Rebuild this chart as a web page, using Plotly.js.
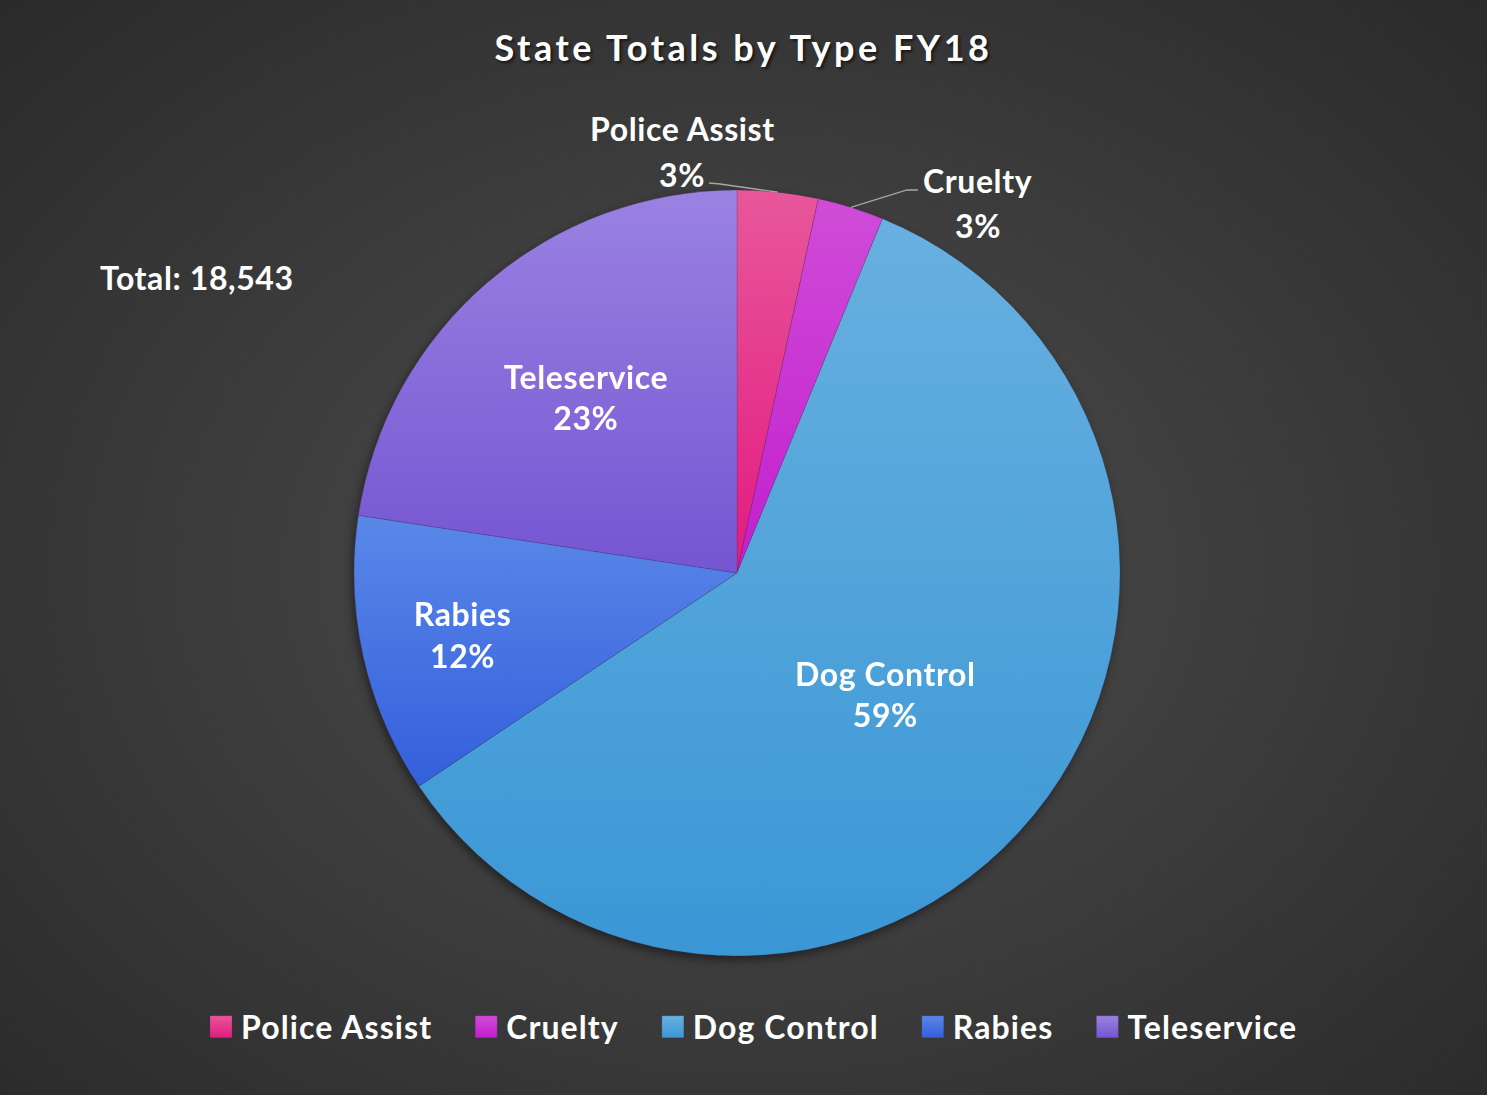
<!DOCTYPE html>
<html>
<head>
<meta charset="utf-8">
<script src="https://cdn.plot.ly/plotly-3.0.1.min.js"></script>
<style>
html, body { margin:0; padding:0; width:1487px; height:1095px; overflow:hidden;
  background: radial-gradient(ellipse at 50% 52%, #4e4e4e 0%, #3e3e3e 45%, #2a2a2a 100%); }
#chart { width:1487px; height:1095px; }
.gtitle { letter-spacing: 3.5px; }
.annotation-text, .slicetext { letter-spacing: 0.6px; }
.legendtext { letter-spacing: 1.1px; }
.pielayer { filter: drop-shadow(-2px 4px 5px rgba(0,0,0,0.45)); }
</style>
</head>
<body>
<div id="chart"></div>
<script>
const categories = ["Police Assist", "Cruelty", "Dog Control", "Rabies", "Teleservice"];
const values = [631, 519, 11015, 2188, 4190];
const colors = ["#e6398c", "#c936d3", "#4ea4dc", "#4775e3", "#8769da"];
const gradTop = ["#e8579a", "#d04cd8", "#68b0e0", "#5a88e8", "#9a82e2"];
const gradBottom = ["#e21a80", "#c21ece", "#3a97d5", "#335fdc", "#7555d2"];
const totalLabel = "Total: 18,543";

const FONT = "Lato, 'Open Sans', sans-serif";
const W = 1487, H = 1095;
// pie geometry in pixels (layout)
const CX = 737, CY = 573, R = 383;
const LEGEND_EXTRA_GAP = 29;

const total = values.reduce((a, b) => a + b, 0);
const pct = values.map(v => Math.round(v / total * 100) + "%");

function edgePoint(i) {
  let cum = 0;
  for (let k = 0; k < i; k++) cum += values[k];
  const mid = (cum + values[i] / 2) / total * 2 * Math.PI;
  return [CX + R * Math.sin(mid), CY - R * Math.cos(mid)];
}
const px = x => x / W;
const py = y => 1 - y / H;

const inside = "<b>%{label}</b><br><b>%{percent:.0%}</b>";
const trace = {
  type: "pie",
  labels: categories,
  values: values,
  sort: false,
  direction: "clockwise",
  rotation: 0,
  marker: { colors: colors, line: { color: "rgba(70,40,90,0.35)", width: 0.6 } },
  texttemplate: ["", "", inside, inside, inside],
  textposition: "inside",
  insidetextorientation: "horizontal",
  textfont: { family: FONT, size: 32, color: "#ffffff" },
  insidetextfont: { family: FONT, size: 32, color: "#ffffff" },
  hoverinfo: "label+value+percent",
  domain: { x: [px(CX - R), px(CX + R)], y: [py(CY + R), py(CY - R)] }
};

const pA = edgePoint(0), pC = edgePoint(1);
const annFont = { family: FONT, size: 32, color: "#ffffff" };
function ann(text, x, y) {
  return { text: "<b>" + text + "</b>", xref: "paper", yref: "paper",
    x: px(x), y: py(y), xanchor: "center", yanchor: "middle", showarrow: false, font: annFont };
}

const layout = {
  width: W, height: H,
  paper_bgcolor: "rgba(0,0,0,0)",
  plot_bgcolor: "rgba(0,0,0,0)",
  margin: { l: 0, r: 0, t: 0, b: 0 },
  title: {
    text: "<b>State Totals by Type FY18</b>",
    font: { family: FONT, size: 36, color: "#ffffff", shadow: "2px 2px 3px rgba(0,0,0,0.6)" },
    x: 0.5, xanchor: "center", y: py(48), yanchor: "middle"
  },
  showlegend: true,
  legend: {
    orientation: "h",
    x: px(752), xanchor: "center",
    y: py(1027), yanchor: "middle",
    font: { family: FONT, size: 32, color: "#ffffff", weight: "bold" },
    bgcolor: "rgba(0,0,0,0)"
  },
  shapes: [
    { type: "path", xref: "paper", yref: "paper",
      path: `M${px(709)},${py(183)} L${px(720)},${py(184)} L${px(pA[0])},${py(pA[1])}`,
      line: { color: "#a6a6a6", width: 1.3 } },
    { type: "path", xref: "paper", yref: "paper",
      path: `M${px(918)},${py(190)} L${px(907)},${py(190)} L${px(pC[0])},${py(pC[1])}`,
      line: { color: "#a6a6a6", width: 1.3 } }
  ],
  annotations: [
    ann(totalLabel, 197, 277),
    ann(categories[0], 682, 128),
    ann(pct[0], 682, 174),
    ann(categories[1], 978, 180),
    ann(pct[1], 978, 226)
  ]
};

function parseTranslate(s) {
  const m = /translate\(\s*([-\d.e]+)[ ,]+([-\d.e]+)\s*\)/.exec(s || "");
  return m ? [parseFloat(m[1]), parseFloat(m[2])] : [0, 0];
}

function postStyle(gd) {
  const svg = gd.querySelector("svg.main-svg");
  const ns = "http://www.w3.org/2000/svg";
  let defs = svg.querySelector("defs");
  if (!defs) { defs = document.createElementNS(ns, "defs"); svg.insertBefore(defs, svg.firstChild); }
  colors.forEach((c, i) => {
    const g = document.createElementNS(ns, "linearGradient");
    g.setAttribute("id", "sliceGrad" + i);
    g.setAttribute("x1", "0"); g.setAttribute("y1", "0");
    g.setAttribute("x2", "0"); g.setAttribute("y2", "1");
    const s1 = document.createElementNS(ns, "stop");
    s1.setAttribute("offset", "0"); s1.setAttribute("stop-color", gradTop[i]);
    const s2 = document.createElementNS(ns, "stop");
    s2.setAttribute("offset", "1"); s2.setAttribute("stop-color", gradBottom[i]);
    g.appendChild(s1); g.appendChild(s2);
    defs.appendChild(g);
  });
  gd.querySelectorAll(".pielayer .slice path.surface").forEach((p, i) => {
    p.style.fill = "url(#sliceGrad" + i + ")";
  });
  // legend: bigger gradient squares and wider spacing between entries
  const items = gd.querySelectorAll(".legend .traces");
  items.forEach((t, i) => {
    const p = t.querySelector(".legendpoints path");
    if (p) {
      p.setAttribute("d", "M11,11H-11V-11H11Z");
      p.style.fill = "url(#sliceGrad" + i + ")";
    }
    const [tx, ty] = parseTranslate(t.getAttribute("transform"));
    t.setAttribute("transform", `translate(${tx + i * LEGEND_EXTRA_GAP},${ty})`);
  });
  const lg = gd.querySelector(".legend");
  if (lg) {
    lg.querySelectorAll("[clip-path]").forEach(el => el.removeAttribute("clip-path"));
    const [lx, ly] = parseTranslate(lg.getAttribute("transform"));
    lg.setAttribute("transform", `translate(${lx - (items.length - 1) * LEGEND_EXTRA_GAP / 2},${ly})`);
  }
}

Plotly.newPlot("chart", [trace], layout, { displayModeBar: false, staticPlot: true })
  .then(postStyle);
</script>
</body>
</html>
